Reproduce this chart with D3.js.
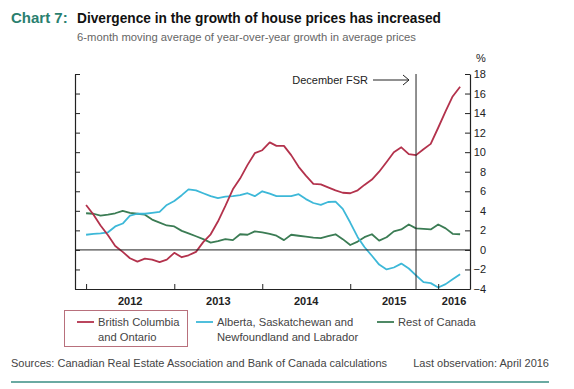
<!DOCTYPE html>
<html>
<head>
<meta charset="utf-8">
<script src="https://cdn.jsdelivr.net/npm/d3@7"></script>
<style>
  body { margin: 0; background: #fff; }
  text { font-family: "Liberation Sans", Arial, sans-serif; }
</style>
</head>
<body>
<svg width="574" height="389"></svg>
<script>
// monthly observations, Jan 2012 - Apr 2016
const months = d3.range(52).map(i => new Date(2012, i, 1));

const bcOntario = [
  4.6, 3.6, 2.5, 1.5, 0.4, -0.2, -0.85, -1.2, -0.9, -1.0, -1.25, -1.0,
  -0.3, -0.75, -0.55, -0.2, 0.8, 1.6, 2.9, 4.5, 6.2, 7.3, 8.7, 9.9,
  10.2, 11.0, 10.65, 10.65, 9.7, 8.5, 7.6, 6.75, 6.7, 6.4, 6.1, 5.85,
  5.8, 6.1, 6.65, 7.2, 8.0, 9.0, 10.0, 10.5, 9.8, 9.7, 10.3, 10.85,
  12.5, 14.2, 15.7, 16.7
];
const albertaSask = [
  1.55, 1.65, 1.7, 1.8, 2.4, 2.7, 3.5, 3.7, 3.7, 3.8, 3.9, 4.6,
  5.0, 5.6, 6.2, 6.1, 5.8, 5.5, 5.3, 5.45, 5.5, 5.6, 5.8, 5.5,
  6.0, 5.75, 5.5, 5.5, 5.5, 5.7, 5.2, 4.8, 4.6, 4.9, 4.95, 4.2,
  2.8, 1.3, 0.3, -0.6, -1.5, -2.0, -1.8, -1.4, -1.9, -2.6, -3.3, -3.4,
  -3.85, -3.5, -3.0, -2.5
];
const restOfCanada = [
  3.75, 3.7, 3.5, 3.6, 3.75, 4.0, 3.8, 3.7, 3.6, 3.1, 2.8, 2.5,
  2.4, 1.95, 1.7, 1.4, 1.1, 0.75, 0.9, 1.1, 1.0, 1.6, 1.55, 1.9,
  1.8, 1.65, 1.45, 1.0, 1.55, 1.45, 1.35, 1.25, 1.2, 1.4, 1.6, 1.1,
  0.5, 0.85, 1.3, 1.6, 0.95, 1.3, 1.9, 2.1, 2.6, 2.2, 2.15, 2.1,
  2.6, 2.2, 1.65, 1.6
];

const yTicks = d3.range(-4, 19, 2);
const years = [2012, 2013, 2014, 2015, 2016];
const fsrDate = new Date(2015, 9, 1);

const series = [
  { name: ["British Columbia", "and Ontario"], values: bcOntario, color: "#b3324c" },
  { name: ["Alberta, Saskatchewan and", "Newfoundland and Labrador"], values: albertaSask, color: "#3db8d8" },
  { name: ["Rest of Canada"], values: restOfCanada, color: "#3b7c54" }
];

const svg = d3.select("svg");

const x = d3.scaleTime()
  .domain([new Date(2011, 10, 16), new Date(2016, 4, 12)])
  .range([75, 470]);
const y = d3.scaleLinear().domain([-4, 18]).range([289, 74]);

// titles
svg.append("text").attr("x", 11).attr("y", 23)
  .attr("font-size", 15).attr("font-weight", "bold").attr("fill", "#2a7f6f")
  .text("Chart 7:");
svg.append("text").attr("x", 77).attr("y", 23)
  .attr("font-size", 15).attr("font-weight", "bold").attr("fill", "#111")
  .attr("textLength", 364).attr("lengthAdjust", "spacingAndGlyphs")
  .text("Divergence in the growth of house prices has increased");
svg.append("text").attr("x", 77).attr("y", 41)
  .attr("font-size", 11).attr("fill", "#666")
  .attr("textLength", 339).attr("lengthAdjust", "spacingAndGlyphs")
  .text("6-month moving average of year-over-year growth in average prices");

svg.append("text").attr("x", 481).attr("y", 62)
  .attr("text-anchor", "middle").attr("font-size", 11).attr("fill", "#222")
  .text("%");

// series
const line = d3.line()
  .x((d, i) => x(months[i]))
  .y(d => y(d));

svg.append("g")
  .selectAll("path")
  .data(series.slice().reverse())
  .join("path")
  .attr("fill", "none")
  .attr("stroke", d => d.color)
  .attr("stroke-width", 1.8)
  .attr("stroke-linejoin", "round")
  .attr("d", d => line(d.values));

// zero line
svg.append("line")
  .attr("x1", 75).attr("x2", 470)
  .attr("y1", y(0)).attr("y2", y(0))
  .attr("stroke", "#222").attr("stroke-width", 1);

// FSR marker
svg.append("line")
  .attr("x1", x(fsrDate)).attr("x2", x(fsrDate))
  .attr("y1", 74).attr("y2", 289)
  .attr("stroke", "#222").attr("stroke-width", 1);
svg.append("text").attr("x", 368).attr("y", 84)
  .attr("text-anchor", "end").attr("font-size", 11).attr("fill", "#222")
  .text("December FSR");
svg.append("path")
  .attr("d", "M373,80H409M403,75L409,80L403,85")
  .attr("fill", "none").attr("stroke", "#222").attr("stroke-width", 1);

// axes
const styleAxis = g => {
  g.select(".domain").attr("stroke", "#222").attr("stroke-width", 1.2);
  g.selectAll(".tick line").attr("stroke", "#222").attr("stroke-width", 1);
};

svg.append("g")
  .attr("transform", "translate(75,0)")
  .call(d3.axisLeft(y).tickValues(yTicks).tickSize(-5).tickSizeOuter(0).tickFormat(""))
  .call(styleAxis);

const right = svg.append("g")
  .attr("transform", "translate(470,0)")
  .call(d3.axisRight(y).tickValues(yTicks).tickSize(-5).tickSizeOuter(0))
  .call(styleAxis);
right.selectAll(".tick text")
  .attr("x", 16).attr("text-anchor", "end")
  .attr("font-size", 11).attr("font-family", null).attr("fill", "#222");

svg.append("g")
  .attr("transform", "translate(0,289)")
  .call(d3.axisBottom(x).tickValues(years.map(yr => new Date(yr, 0, 1)))
    .tickSize(-5).tickSizeOuter(0).tickFormat(""))
  .call(styleAxis);

svg.append("g")
  .selectAll("text")
  .data(years)
  .join("text")
  .attr("x", yr => {
    const a = x(new Date(yr, 0, 1));
    const b = Math.min(x(new Date(yr + 1, 0, 1)), x.range()[1]);
    return (a + b) / 2;
  })
  .attr("y", 305)
  .attr("text-anchor", "middle")
  .attr("font-size", 11).attr("font-weight", "bold").attr("fill", "#222")
  .text(yr => yr);

// legend
svg.append("rect")
  .attr("x", 64.5).attr("y", 310.5).attr("width", 123).attr("height", 36)
  .attr("fill", "none").attr("stroke", "#b8707c").attr("stroke-width", 1);

const legendX = [77, 196, 377];
const leg = svg.append("g")
  .selectAll("g")
  .data(series)
  .join("g")
  .attr("transform", (d, i) => `translate(${legendX[i]},322)`);
leg.append("line")
  .attr("x1", 0).attr("x2", 17)
  .attr("stroke", d => d.color).attr("stroke-width", 1.8);
leg.append("text")
  .attr("x", 21).attr("y", 4)
  .attr("font-size", 11.2).attr("fill", "#444")
  .selectAll("tspan")
  .data(d => d.name)
  .join("tspan")
  .attr("x", 21)
  .attr("dy", (d, i) => i ? 15 : 0)
  .text(d => d);

// footer
svg.append("text").attr("x", 11).attr("y", 367)
  .attr("font-size", 11).attr("fill", "#444")
  .text("Sources: Canadian Real Estate Association and Bank of Canada calculations");
svg.append("text").attr("x", 549).attr("y", 367)
  .attr("text-anchor", "end").attr("font-size", 11).attr("fill", "#444")
  .text("Last observation: April 2016");
svg.append("line")
  .attr("x1", 11).attr("x2", 549).attr("y1", 382).attr("y2", 382)
  .attr("stroke", "#6aaaa2").attr("stroke-width", 2);
</script>
</body>
</html>
